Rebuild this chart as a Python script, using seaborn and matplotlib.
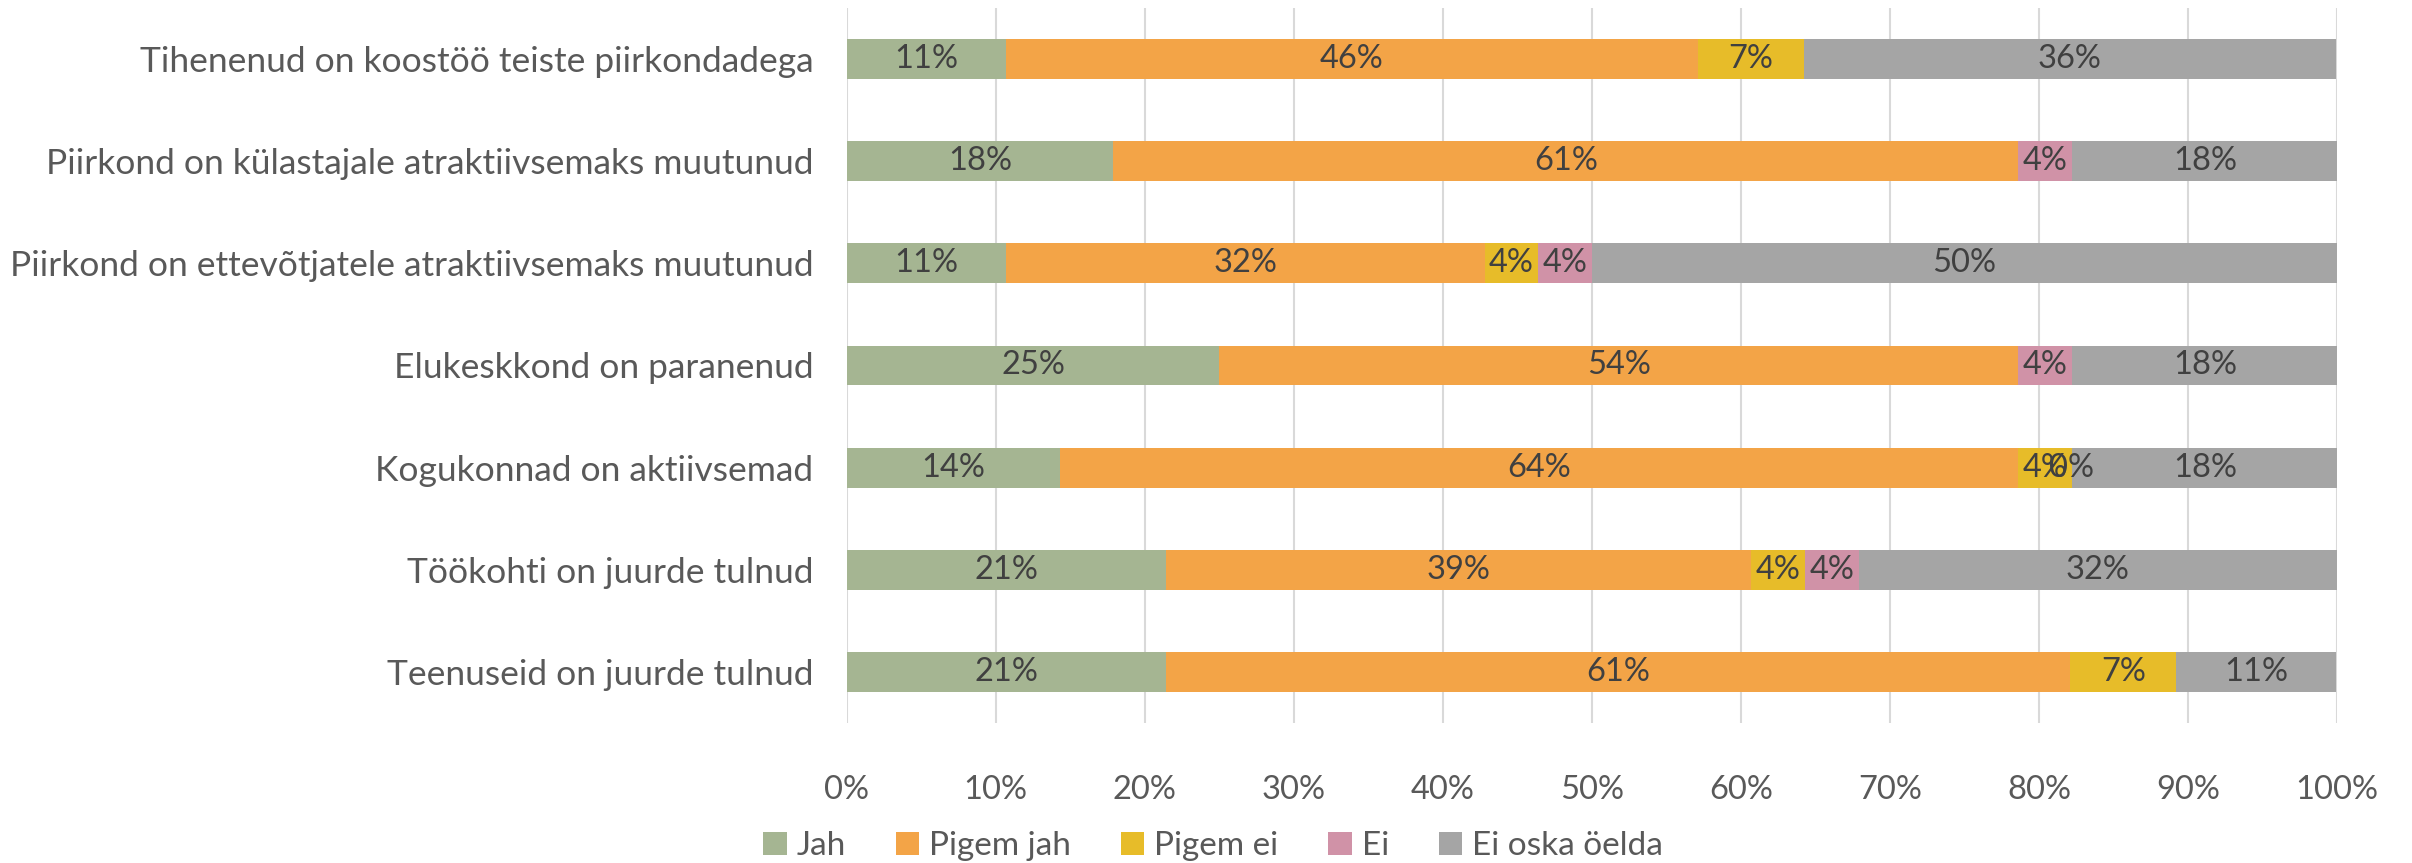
import numpy as np
import pandas as pd
import matplotlib
matplotlib.use("Agg")
import matplotlib.pyplot as plt
import seaborn as sns

sns.set_theme(style="white")
plt.rcParams['font.family'] = ['Lato', 'DejaVu Sans']

# Väited (ülevalt alla)
vaited = [
    "Tihenenud on koostöö teiste piirkondadega",
    "Piirkond on külastajale atraktiivsemaks muutunud",
    "Piirkond on ettevõtjatele atraktiivsemaks muutunud",
    "Elukeskkond on paranenud",
    "Kogukonnad on aktiivsemad",
    "Töökohti on juurde tulnud",
    "Teenuseid on juurde tulnud",
]

# Osakaalud protsentides (nan = tühi lahter)
jah = [10.7, 17.9, 10.7, 25.0, 14.3, 21.4, 21.4]
pigem_jah = [46.4, 60.7, 32.1, 53.6, 64.3, 39.3, 60.7]
pigem_ei = [7.1, np.nan, 3.6, np.nan, 3.6, 3.6, 7.1]
ei = [np.nan, 3.6, 3.6, 3.6, 0.0, 3.6, np.nan]
ei_oska = [35.7, 17.9, 50.0, 17.9, 17.9, 32.1, 10.7]

seeriad = ["Jah", "Pigem jah", "Pigem ei", "Ei", "Ei oska öelda"]
varvid = ["#a5b592", "#f3a447", "#e7bc29", "#d092a7", "#a5a5a5"]

df = pd.DataFrame({
    "vaide": vaited,
    "Jah": jah,
    "Pigem jah": pigem_jah,
    "Pigem ei": pigem_ei,
    "Ei": ei,
    "Ei oska öelda": ei_oska,
})
kum = df[seeriad].fillna(0).cumsum(axis=1)

fig = plt.figure(figsize=(24.12, 8.63), dpi=100)
ax = fig.add_axes([0.351, 0.162, 0.618, 0.829])

# kuhjatud tulbad: joonistame suurimast kumulatiivsest väiksemani
for s, c in reversed(list(zip(seeriad, varvid))):
    sns.barplot(x=kum[s], y=df["vaide"], color=c, orient="h", width=0.39,
                ax=ax, saturation=1, edgecolor="none", zorder=2, label=s)

handles, labels = ax.get_legend_handles_labels()
if ax.get_legend() is not None:
    ax.get_legend().remove()

# andmesildid
for s in seeriad:
    for i, v in enumerate(df[s]):
        if np.isnan(v):
            continue
        x = kum[s].iloc[i] - v / 2
        ax.text(x, i, f"{v:.0f}%", ha="center", va="center",
                fontsize=23.5, color="#404040", zorder=3)

ax.set_xlim(0, 100)
ax.set_ylim(6.5, -0.5)
ax.set_xticks(range(0, 101, 10))
ax.set_xticklabels([f"{t}%" for t in range(0, 101, 10)])
ax.grid(axis="x", color="#d9d9d9", linewidth=1.5, zorder=0)
ax.set_axisbelow(True)
for sp in ax.spines.values():
    sp.set_visible(False)
ax.set_xlabel("")
ax.set_ylabel("")
ax.tick_params(axis="y", length=0, pad=24, labelsize=25.5, labelcolor="#595959")
ax.tick_params(axis="x", length=0, pad=37, labelsize=23.5, labelcolor="#595959")

order = [labels.index(s) for s in seeriad]
fig.legend([handles[k] for k in order], seeriad, loc="lower center",
           bbox_to_anchor=(0.503, -0.033), ncol=5, frameon=False,
           fontsize=24, labelcolor="#595959", handlelength=0.7,
           handleheight=0.7, handletextpad=0.3, columnspacing=1.5)

plt.savefig("out.png", dpi=100)
plt.close()
